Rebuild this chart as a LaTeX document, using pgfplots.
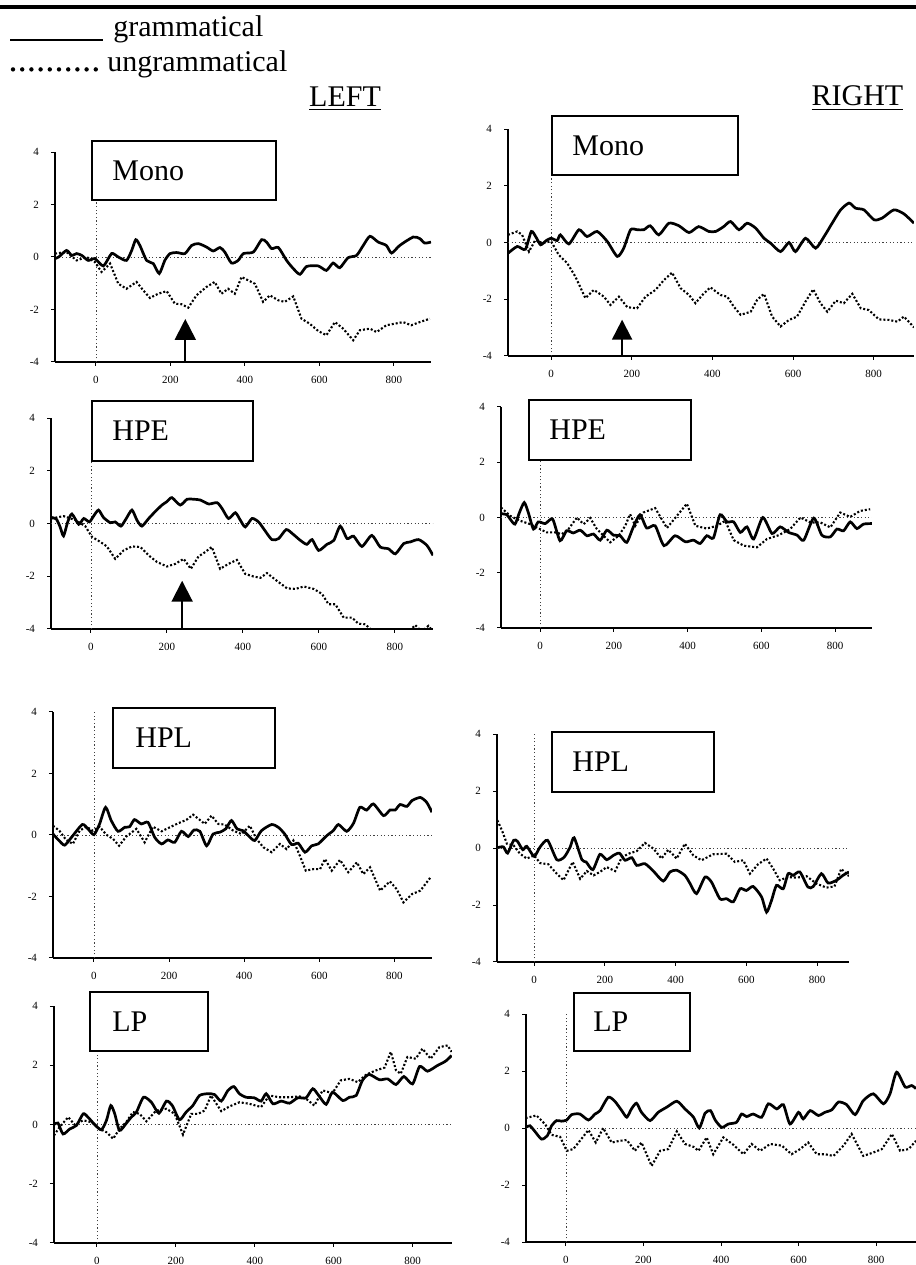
\documentclass[border=0pt]{standalone}
\usepackage{fontspec}
\setmainfont{Liberation Serif}
\usepackage{pgfplots}
\pgfplotsset{compat=1.18}
\usetikzlibrary{arrows.meta}
\pgfplotsset{erp/.style={scale only axis, anchor=south west, axis lines*=left,
  ymin=-4, ymax=4, ytick={-4,-2,0,2,4}, xtick={0,200,400,600,800},
  tick align=outside, major tick length=2pt, minor tick num=0,
  every tick/.style={black, line width=0.5pt},
  axis line style={black, line width=0.7pt},
  ticklabel style={font=\fontsize{5.5}{6}\selectfont},
  xticklabel style={yshift=-1.5pt}, yticklabel style={xshift=-2.5pt},
  /pgf/number format/assume math mode=true},
  gram/.style={black, line width=1.35pt, smooth, tension=0.4},
  ungram/.style={black, line width=1.05pt, dash pattern=on 1pt off 1pt},
  ref/.style={black!75, line width=0.4pt, dash pattern=on 0.6pt off 1.2pt, forget plot}}
\newcommand{\refl}[2]{\addplot[ref] coordinates {(#1,0) (#2,0)};
  \addplot[ref] coordinates {(0,-4) (0,4)};}
\begin{document}
\begin{tikzpicture}
\useasboundingbox (0,0) rectangle (458pt,632.5pt);
\draw[line width=2pt] (0,628.75pt) -- (458pt,628.75pt);
\draw[line width=1pt] (5pt,612.5pt) -- (51.5pt,612.5pt);
\node[anchor=base west, inner sep=0pt, font=\fontsize{15}{18}\selectfont] at (56.5pt,614pt) {grammatical};
\draw[line width=2.2pt, line cap=round, dash pattern=on 0pt off 4.6pt] (6.5pt,597.8pt) -- (48.5pt,597.8pt);
\node[anchor=base west, inner sep=0pt, font=\fontsize{15}{18}\selectfont] at (53.5pt,596.5pt) {ungrammatical};
\node[anchor=base, inner sep=0pt, font=\fontsize{15}{18}\selectfont] at (172.5pt,579pt) {\underline{LEFT}};
\node[anchor=base, inner sep=0pt, font=\fontsize{15}{18}\selectfont] at (428.75pt,579.5pt) {\underline{RIGHT}};

% ---------- Left Mono
\begin{axis}[erp, at={(27.5pt,451.5pt)}, width=188pt, height=105pt, xmin=-110, xmax=900]
\refl{-110}{900}
\addplot[gram] coordinates {(-110,-0.06) (-100,0) (-79,0.25) (-65,0.06) (-52,0.13) (-38,0.06) (-21,-0.13) (-3,-0.06) (20,-0.34) (42,0.13) (60,0) (82,-0.13) (96,0.25) (107,0.66) (118,0.44) (136,-0.13) (154,-0.25) (170,-0.63) (185,-0.13) (199,0.13) (217,0.17) (239,0.13) (257,0.44) (275,0.51) (297,0.38) (315,0.23) (333,0.36) (346,0.19) (364,-0.23) (382,-0.13) (396,0.13) (423,0.19) (445,0.66) (458,0.57) (472,0.32) (490,0.36) (512,-0.13) (530,-0.44) (548,-0.66) (566,-0.36) (597,-0.34) (619,-0.51) (637,-0.23) (655,-0.41) (677,-0.03) (700,0.06) (718,0.44) (736,0.79) (758,0.57) (780,0.44) (794,0.15) (816,0.44) (852,0.76) (870,0.70) (883,0.53) (900,0.57)};
\addplot[ungram] coordinates {(-110,0.13) (-79,0.19) (-52,-0.13) (-25,0) (-3,-0.19) (15,-0.57) (38,-0.25) (60,-1.02) (82,-1.21) (109,-0.95) (127,-1.27) (145,-1.56) (167,-1.40) (190,-1.30) (212,-1.78) (230,-1.80) (248,-1.93) (270,-1.46) (297,-1.14) (319,-0.95) (337,-1.40) (355,-1.21) (373,-1.40) (391,-0.76) (409,-0.89) (427,-1.02) (449,-1.71) (467,-1.46) (490,-1.65) (507,-1.71) (530,-1.50) (552,-2.35) (574,-2.54) (597,-2.82) (619,-2.98) (642,-2.48) (664,-2.73) (691,-3.17) (709,-2.79) (736,-2.73) (754,-2.86) (780,-2.60) (803,-2.54) (825,-2.48) (847,-2.60) (870,-2.48) (897,-2.35)};
\draw[line width=1pt, -{Triangle[width=10.5pt,length=10.5pt]}] (axis cs:240,-4) -- (axis cs:240,-2.36);
\end{axis}

% ---------- Right Mono
\begin{axis}[erp, at={(254pt,454.5pt)}, width=203pt, height=113.5pt, xmin=-107, xmax=900]
\refl{-107}{900}
\addplot[gram] coordinates {(-107,-0.38) (-84,-0.14) (-64,-0.24) (-49,0.39) (-36,0.15) (-26,-0.08) (-12,0.07) (0,0.15) (15,0.07) (23,0.27) (44,-0.05) (69,0.45) (89,0.21) (114,0.39) (139,0.04) (164,-0.49) (180,-0.2) (197,0.45) (213,0.45) (230,0.45) (246,0.59) (267,0.27) (292,0.68) (317,0.59) (342,0.35) (366,0.56) (391,0.39) (408,0.39) (428,0.56) (445,0.74) (466,0.45) (486,0.68) (507,0.51) (528,0.15) (544,-0.02) (569,-0.32) (590,0) (606,-0.32) (631,0.15) (656,-0.2) (677,0.21) (697,0.68) (718,1.15) (739,1.39) (755,1.21) (776,1.15) (801,0.8) (821,0.86) (850,1.15) (875,1.01) (900,0.68)};
\addplot[ungram] coordinates {(-107,0.27) (-84,0.39) (-72,0.27) (-55,-0.32) (-39,0.09) (-22,-0.02) (0,0.04) (19,-0.44) (40,-0.73) (60,-1.2) (85,-1.96) (106,-1.67) (131,-1.91) (147,-2.2) (168,-1.91) (189,-2.28) (213,-2.32) (234,-1.91) (259,-1.67) (280,-1.32) (300,-1.06) (321,-1.61) (342,-1.85) (358,-2.14) (375,-1.85) (395,-1.58) (420,-1.85) (437,-1.91) (453,-2.26) (470,-2.55) (495,-2.44) (511,-2.02) (528,-1.81) (548,-2.61) (569,-2.96) (590,-2.73) (610,-2.61) (631,-2.08) (650,-1.65) (668,-2.14) (685,-2.44) (706,-2.05) (726,-2.14) (747,-1.81) (768,-2.32) (788,-2.38) (813,-2.71) (838,-2.73) (859,-2.79) (875,-2.61) (900,-2.99)};
\draw[line width=1pt, -{Triangle[width=10pt,length=10pt]}] (axis cs:176,-4) -- (axis cs:176,-2.72);
\end{axis}

% ---------- Left HPE
\begin{axis}[erp, at={(25.5pt,318pt)}, width=191pt, height=105.5pt, xmin=-105, xmax=900]
\refl{-105}{900}
\addplot[gram] coordinates {(-104,0.23) (-91,0.17) (-81,-0.13) (-72,-0.47) (-61,0.06) (-50,0.36) (-32,-0.03) (-19,0.19) (-4,0.06) (7,0.28) (20,0.51) (33,0.23) (51,0.03) (64,0.06) (79,-0.1) (93,0.19) (108,0.51) (121,0.13) (134,-0.1) (152,0.19) (169,0.45) (187,0.7) (200,0.83) (213,0.98) (235,0.7) (253,0.92) (270,0.92) (288,0.89) (310,0.74) (332,0.79) (345,0.57) (362,0.19) (380,0.41) (393,0.13) (406,-0.13) (424,0.19) (441,0.06) (454,-0.19) (476,-0.61) (494,-0.57) (514,-0.23) (533,-0.42) (551,-0.64) (568,-0.79) (582,-0.61) (599,-1.02) (621,-0.79) (639,-0.64) (656,-0.1) (674,-0.57) (691,-0.48) (713,-0.87) (739,-0.45) (761,-0.89) (783,-0.96) (801,-1.15) (823,-0.76) (840,-0.7) (862,-0.61) (884,-0.83) (900,-1.21)};
\addplot[ungram] coordinates {(-104,0.19) (-72,0.28) (-41,0.13) (-15,-0.1) (3,-0.51) (25,-0.7) (42,-0.87) (64,-1.34) (86,-1.02) (108,-0.87) (130,-0.89) (152,-1.21) (174,-1.46) (200,-1.63) (222,-1.53) (244,-1.34) (263,-1.72) (283,-1.25) (301,-1.08) (318,-0.89) (340,-1.72) (362,-1.53) (384,-1.38) (406,-1.91) (428,-2.01) (446,-2.06) (463,-1.88) (489,-2.17) (516,-2.46) (538,-2.48) (560,-2.39) (586,-2.48) (608,-2.67) (625,-3.06) (643,-3.06) (665,-3.57) (687,-3.57) (704,-3.8) (722,-3.82) (735,-4.0) (760,-4.3) (800,-4.2) (840,-4.05) (853,-3.85) (870,-4.1) (888,-3.88) (900,-4.1)};
\draw[line width=1pt, -{Triangle[width=10.5pt,length=10.5pt]}] (axis cs:240,-4) -- (axis cs:240,-2.17);
\end{axis}

% ---------- Right HPE
\begin{axis}[erp, at={(250.5pt,318.5pt)}, width=185.5pt, height=110.5pt, xmin=-106, xmax=900]
\refl{-106}{900}
\addplot[gram] coordinates {(-106,0.14) (-90,0.1) (-81,-0.06) (-68,-0.24) (-56,0.18) (-43,0.54) (-32,0.18) (-18,-0.42) (-5,-0.16) (14,-0.22) (34,-0.06) (54,-0.84) (72,-0.48) (90,-0.56) (109,-0.46) (127,-0.66) (145,-0.6) (163,-0.82) (181,-0.46) (199,-0.64) (217,-0.66) (235,-0.9) (253,-0.34) (271,0.1) (289,-0.38) (312,-0.3) (336,-1.02) (366,-0.66) (394,-0.88) (416,-0.82) (434,-0.94) (452,-0.66) (470,-0.74) (488,0.1) (507,-0.16) (525,-0.16) (543,-0.54) (561,-0.34) (579,-0.78) (604,0) (629,-0.58) (651,-0.34) (674,-0.54) (697,-0.64) (715,-0.82) (742,-0.02) (764,-0.64) (787,-0.7) (805,-0.42) (823,-0.48) (841,-0.16) (859,-0.4) (877,-0.24) (900,-0.22)};
\addplot[ungram] coordinates {(-106,0.36) (-81,0.06) (-54,-0.12) (-27,-0.24) (0,-0.42) (18,-0.54) (41,-0.54) (59,-0.6) (77,-0.42) (100,0) (118,-0.24) (136,-0.02) (154,-0.42) (172,-0.66) (190,-0.9) (213,-0.66) (231,-0.3) (244,0.12) (258,-0.3) (280,0.18) (312,0.34) (344,-0.38) (371,0.06) (398,0.5) (421,-0.3) (452,-0.4) (480,-0.3) (502,-0.12) (525,-0.82) (552,-1.02) (588,-1.08) (615,-0.78) (647,-0.64) (678,-0.42) (706,0) (733,-0.18) (760,-0.18) (787,-0.36) (814,0.18) (841,0.02) (868,0.24) (895,0.3)};
\end{axis}

% ---------- Left HPL
\begin{axis}[erp, at={(26.5pt,153.5pt)}, width=189.5pt, height=123pt, xmin=-109, xmax=900]
\refl{-109}{900}
\addplot[gram] coordinates {(-109,0.03) (-93,-0.18) (-78,-0.33) (-60,-0.08) (-31,0.34) (-16,0.2) (0,0.01) (15,0.36) (31,0.9) (46,0.47) (64,0.12) (82,0.25) (95,0.27) (108,0.5) (126,0.36) (144,0.41) (162,-0.08) (180,-0.29) (197,-0.16) (215,-0.24) (233,0.12) (251,-0.05) (266,0.16) (282,0.12) (300,-0.35) (317,0.03) (335,0.09) (351,0.2) (366,0.47) (381,0.2) (397,0.14) (411,-0.02) (428,-0.18) (446,0.14) (473,0.34) (491,0.25) (508,0.03) (526,-0.31) (544,-0.27) (562,-0.56) (580,-0.35) (597,-0.29) (620,-0.02) (637,0.14) (651,0.34) (673,0.12) (691,0.38) (708,0.9) (726,0.81) (744,1.01) (771,0.63) (788,0.81) (802,0.81) (815,0.99) (833,0.93) (847,1.12) (869,1.22) (886,1.06) (900,0.74)};
\addplot[ungram] coordinates {(-109,0.3) (-92,0.14) (-74,-0.16) (-56,-0.29) (-38,0.14) (-20,0.27) (-3,0.14) (15,0.27) (33,0.01) (51,-0.13) (67,-0.35) (86,-0.05) (113,0.2) (135,-0.24) (157,0.27) (180,0.12) (202,0.25) (224,0.38) (246,0.49) (264,0.66) (282,0.49) (295,0.36) (313,0.63) (331,0.36) (348,0.34) (371,0.14) (393,0.03) (415,0.3) (433,-0.13) (451,-0.4) (473,-0.56) (495,-0.29) (513,-0.46) (531,-0.18) (548,-0.67) (564,-1.16) (584,-1.11) (602,-1.11) (615,-0.78) (633,-1.16) (655,-0.81) (677,-1.21) (700,-0.89) (717,-1.27) (735,-1.05) (762,-1.81) (788,-1.51) (806,-1.76) (824,-2.19) (847,-1.92) (869,-1.81) (896,-1.38)};
\end{axis}

% ---------- Right HPL
\begin{axis}[erp, at={(248.5pt,151.5pt)}, width=176pt, height=114pt, xmin=-105, xmax=890]
\refl{-105}{890}
\addplot[gram] coordinates {(-104,0.01) (-87,0.04) (-75,-0.18) (-58,0.27) (-47,0.23) (-32,-0.06) (-21,0.06) (0,-0.29) (17,0.04) (38,0.27) (64,-0.41) (85,-0.32) (102,0.04) (113,0.36) (135,-0.41) (147,-0.49) (166,-0.76) (186,-0.22) (205,-0.41) (224,-0.26) (241,-0.18) (257,-0.43) (276,-0.34) (290,-0.61) (313,-0.55) (337,-0.81) (365,-1.16) (384,-0.84) (403,-0.78) (426,-0.96) (440,-1.23) (459,-1.6) (483,-1.02) (501,-1.19) (525,-1.78) (544,-1.78) (563,-1.89) (582,-1.43) (600,-1.49) (619,-1.35) (643,-1.72) (657,-2.25) (671,-1.84) (685,-1.31) (704,-1.43) (718,-0.9) (732,-0.96) (751,-0.84) (774,-1.37) (789,-1.35) (812,-0.9) (831,-1.23) (855,-1.13) (873,-0.96) (890,-0.84)};
\addplot[ungram] coordinates {(-104,0.97) (-91,0.62) (-77,0.15) (-58,0.09) (-40,-0.2) (-21,-0.37) (0,-0.26) (17,-0.53) (40,-0.57) (64,-0.9) (83,-1.13) (109,-0.49) (130,-1.08) (149,-0.81) (168,-0.96) (186,-0.84) (205,-0.67) (229,-0.81) (248,-0.32) (271,-0.18) (290,-0.11) (313,0.18) (337,-0.02) (360,-0.37) (379,-0.06) (403,-0.37) (426,0.15) (450,-0.26) (473,-0.43) (506,-0.22) (544,-0.2) (567,-0.49) (591,-0.43) (610,-0.9) (633,-0.57) (657,-0.37) (676,-0.73) (694,-1.13) (718,-1.02) (742,-1.04) (770,-0.99) (798,-1.25) (826,-1.39) (849,-1.35) (868,-0.73) (890,-0.99)};
\end{axis}

% ---------- Left LP
\begin{axis}[erp, at={(27pt,11pt)}, width=199pt, height=118.5pt, xmin=-109, xmax=900]
\refl{-109}{900}
\addplot[gram] coordinates {(-109,0) (-99,0.05) (-86,-0.32) (-69,-0.15) (-52,-0.03) (-35,0.36) (-23,0.25) (-6,0) (11,-0.18) (24,0.14) (35,0.64) (45,0.36) (57,-0.2) (73,0.02) (87,0.25) (100,0.42) (118,0.92) (138,0.75) (157,0.38) (176,0.79) (191,0.64) (209,0.16) (226,0.42) (243,0.64) (260,0.98) (281,1.04) (298,1.01) (315,0.79) (332,1.15) (347,1.28) (361,1.04) (378,0.92) (399,0.9) (416,0.79) (429,1.04) (446,0.7) (467,0.79) (488,0.72) (509,0.9) (530,0.9) (547,1.21) (562,0.98) (581,0.68) (597,1.09) (623,0.81) (640,0.92) (657,0.98) (673,1.49) (690,1.69) (716,1.51) (737,1.54) (758,1.35) (778,1.62) (800,1.37) (818,1.96) (838,1.8) (863,1.99) (884,2.14) (899,2.33)};
\addplot[ungram] coordinates {(-109,-0.37) (-95,-0.09) (-73,0.25) (-57,0) (-35,0.14) (-14,0.08) (7,-0.15) (24,-0.26) (41,-0.48) (57,-0.15) (74,0.08) (91,0.42) (108,0.36) (125,0.11) (150,0.47) (176,0.53) (197,0.36) (218,-0.34) (239,0.36) (256,0.36) (273,0.47) (289,0.98) (315,0.45) (336,0.61) (361,0.75) (386,0.7) (416,0.59) (437,0.98) (462,0.92) (488,0.92) (513,0.95) (530,0.87) (551,0.64) (572,1.15) (597,1.06) (618,1.49) (640,1.54) (661,1.43) (683,1.69) (708,1.83) (729,1.92) (745,2.45) (758,1.83) (770,1.71) (787,2.28) (808,2.22) (825,2.56) (846,2.22) (868,2.61) (889,2.67) (899,2.45)};
\end{axis}

% ---------- Right LP
\begin{axis}[erp, at={(263pt,11.5pt)}, width=195pt, height=114pt, xmin=-103, xmax=903]
\refl{-103}{903}
\addplot[gram] coordinates {(-104,0.02) (-93,0.08) (-80,-0.12) (-63,-0.39) (-48,-0.27) (-37,0.08) (-24,0.26) (-11,0.24) (2,0.28) (15,0.47) (36,0.49) (58,0.28) (75,0.49) (88,0.61) (109,1.08) (126,0.94) (144,0.61) (157,0.38) (169,0.67) (182,0.87) (195,0.55) (217,0.26) (238,0.55) (260,0.73) (286,0.94) (307,0.67) (329,0.38) (344,0) (359,0.52) (373,0.61) (385,0.28) (402,0.02) (419,0.14) (440,0.2) (453,0.49) (466,0.4) (483,0.49) (505,0.38) (522,0.85) (544,0.67) (561,0.82) (578,0.14) (600,0.55) (612,0.32) (630,0.61) (651,0.44) (668,0.55) (686,0.64) (703,0.91) (724,0.82) (746,0.47) (767,0.96) (793,1.2) (819,0.85) (836,1.2) (853,1.96) (875,1.44) (892,1.49) (903,1.38)};
\addplot[ungram] coordinates {(-104,0.35) (-76,0.44) (-54,0.14) (-37,-0.24) (-15,-0.31) (2,-0.8) (19,-0.74) (36,-0.45) (58,-0.07) (77,-0.51) (96,0) (118,-0.51) (139,-0.45) (157,-0.42) (178,-0.8) (195,-0.51) (221,-1.33) (243,-0.8) (264,-0.74) (286,-0.12) (307,-0.56) (329,-0.66) (342,-0.8) (363,-0.33) (380,-0.92) (406,-0.33) (432,-0.59) (458,-0.92) (479,-0.56) (501,-0.8) (527,-0.56) (557,-0.62) (582,-0.92) (604,-0.74) (625,-0.51) (647,-0.92) (668,-0.92) (690,-0.98) (716,-0.62) (737,-0.21) (767,-0.98) (793,-0.86) (815,-0.74) (841,-0.21) (862,-0.8) (884,-0.74) (903,-0.45)};
\end{axis}

% ---------- Condition boxes
\tikzset{cbox/.style={line width=0.9pt, fill=white}, ctext/.style={anchor=base west, inner sep=0pt, font=\fontsize{15}{18}\selectfont}}
\draw[cbox] (46pt,532.5pt) rectangle (138pt,562pt);   \node[ctext] at (56pt,542.3pt) {Mono};
\draw[cbox] (276pt,545pt) rectangle (369pt,574.5pt);  \node[ctext] at (286pt,554.8pt) {Mono};
\draw[cbox] (46pt,402pt) rectangle (126.5pt,432pt);   \node[ctext] at (56pt,412pt) {HPE};
\draw[cbox] (264.5pt,402.5pt) rectangle (345.5pt,432.5pt); \node[ctext] at (274.5pt,412.5pt) {HPE};
\draw[cbox] (56.5pt,248.5pt) rectangle (137.5pt,278.5pt); \node[ctext] at (67.5pt,258.5pt) {HPL};
\draw[cbox] (276pt,236.5pt) rectangle (357pt,266.5pt); \node[ctext] at (286pt,246.5pt) {HPL};
\draw[cbox] (45pt,107pt) rectangle (104pt,136.5pt);   \node[ctext] at (56pt,116.8pt) {LP};
\draw[cbox] (287pt,107pt) rectangle (345pt,136pt);    \node[ctext] at (296.5pt,116.5pt) {LP};
\end{tikzpicture}
\end{document}
